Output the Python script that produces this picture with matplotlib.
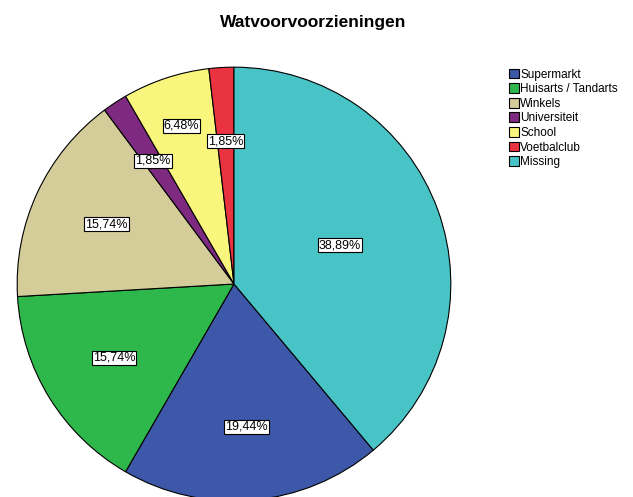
import matplotlib
matplotlib.use("Agg")
import matplotlib.pyplot as plt
import numpy as np

# legend order
labels = ["Supermarkt", "Huisarts / Tandarts", "Winkels", "Universiteit",
          "School", "Voetbalclub", "Missing"]
percents = [19.44, 15.74, 15.74, 1.85, 6.48, 1.85, 38.89]
colors = ["#3D57A9", "#2EB74A", "#D4CC99", "#7E2A80", "#FAF57C", "#EA3340", "#48C3C6"]
# where each percentage label sits, as fraction of radius
label_dist = [0.66, 0.65, 0.65, 0.68, 0.77, 0.66, 0.52]

fig = plt.figure(figsize=(6.33, 4.97), dpi=100)
fig.text(0.495, 0.955, "Watvoorvoorzieningen", ha="center", va="center",
         fontsize=12.5, fontweight="bold", family="Liberation Sans")

cx, cy, r = 234, 497 - 284, 219
ax = fig.add_axes([(cx - r) / 633, (cy - r) / 497, 2 * r / 633, 2 * r / 497])

# Missing starts at the top, going clockwise
start = 90 - 360 * percents[-1] / sum(percents)
wedges, _ = ax.pie(percents, colors=colors, startangle=start, counterclock=False,
                   radius=1, wedgeprops=dict(edgecolor="black", linewidth=0.8))
ax.set_xlim(-1.01, 1.01)
ax.set_ylim(-1.01, 1.01)
ax.set_aspect("auto")

for w, p, d in zip(wedges, percents, label_dist):
    th = np.deg2rad((w.theta1 + w.theta2) / 2)
    ax.text(d * np.cos(th), d * np.sin(th), f"{p:.2f}%".replace(".", ","),
            ha="center", va="center", fontsize=9, family="Liberation Sans",
            bbox=dict(boxstyle="square,pad=0.08", facecolor="white",
                      edgecolor="black", linewidth=0.8))

leg = fig.legend(wedges, labels, loc="upper left", bbox_to_anchor=(0.794, 0.874),
                 frameon=False, handlelength=0.9, handleheight=0.9,
                 handletextpad=0.1, labelspacing=0.22, borderpad=0,
                 prop={"family": "Liberation Sans", "size": 8.5})

fig.savefig("out.png", dpi=100)
